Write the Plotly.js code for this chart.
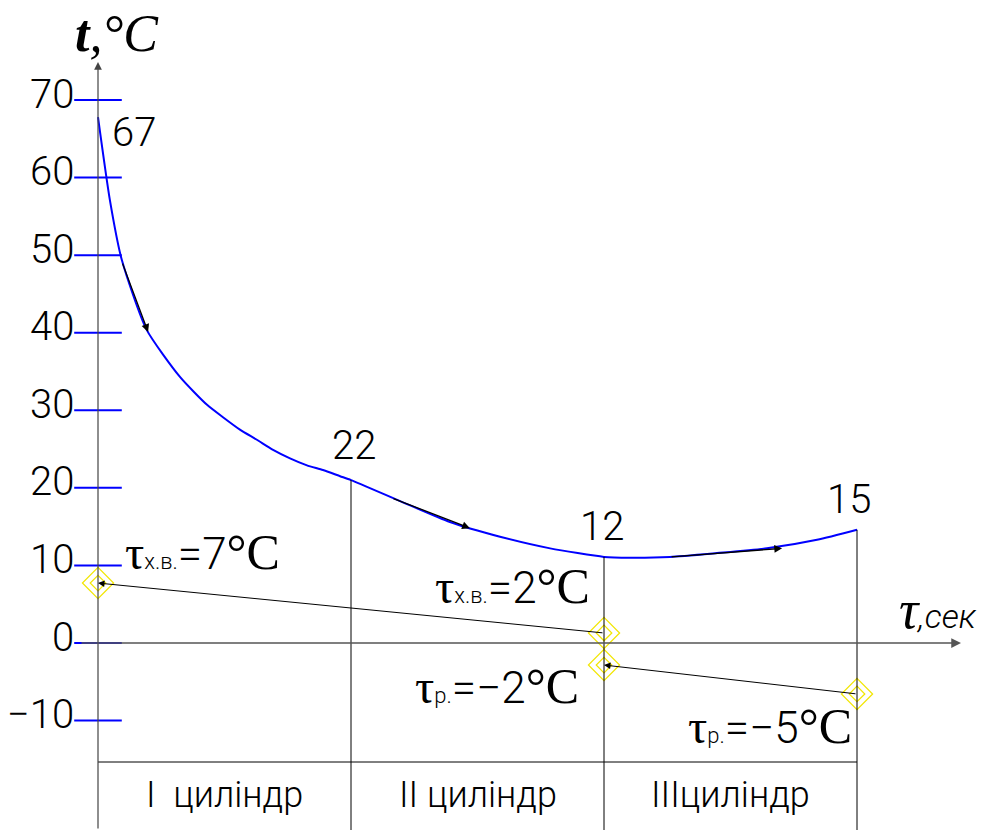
<!DOCTYPE html>
<html>
<head>
<meta charset="utf-8">
<script src="https://cdn.plot.ly/plotly-3.0.1.min.js"></script>
<style>html,body{margin:0;padding:0;background:#fff;}#chart{width:997px;height:830px;}</style>
</head>
<body>
<div id="chart"></div>
<script>
// ---- data ----
const curveX = [0, 0.047, 0.094, 0.192, 0.324, 0.431, 0.494, 0.561, 0.628, 0.692, 0.759, 0.826, 0.889, 0.957, 1.0, 1.194, 1.391, 1.589, 1.787, 2.0, 2.103, 2.261, 2.447, 2.644, 2.842, 3.0];
const curveT = [67.8, 57.1, 49.4, 40.4, 34.3, 30.7, 29.1, 27.5, 26.2, 24.9, 23.8, 22.9, 22.3, 21.5, 21.0, 18.3, 15.6, 13.7, 12.2, 11.1, 11.0, 11.1, 11.6, 12.2, 13.3, 14.6];
const pointX = [0, 1, 2, 3];
const pointLabels = ['67', '22', '12', '15'];
const tickVals = [70, 60, 50, 40, 30, 20, 10, 0, -10];
const tickText = ['70', '60', '50', '40', '30', '20', '10', '0', '−10'];
// cooling water (х.в.) and brine (р.) temperatures
const waterX = [0, 2];
const waterT = [7.73, 1.29];
const waterLabels = ['7', '2'];
const brineX = [2, 3];
const brineT = [-2.84, -6.57];
const brineLabels = ['−2', '−5'];
const cylinderNames = ['I&nbsp;&nbsp;циліндр', 'II циліндр', 'IIIциліндр'];
const cylinderX = [0.5, 1.5, 2.5];

// ---- layout helpers ----
const SANS = 'Roboto, "Liberation Sans", sans-serif';
const SERIF = '"Liberation Serif", "DejaVu Serif", serif';
const X0 = -98/253, X1 = (997-98)/253;
const Y1 = 643/7.757, Y0 = -(830-643)/7.757;
const tableLineT = -(762-643)/7.757;
const tableTextT = -(795-643)/7.757;

function curveAt(x){ const i = curveX.indexOf(x); return curveT[i]; }

const traces = [];
// blue tick marks crossing the axis
traces.push({x: tickVals.map(()=>0), y: tickVals, mode: 'markers', type: 'scatter',
  marker: {symbol: 'line-ew', size: 34, line: {color: '#0000ff', width: 2}}, hoverinfo: 'skip'});
// main curve
traces.push({x: curveX, y: curveT, mode: 'lines', type: 'scatter',
  line: {color: '#0000ff', width: 2, shape: 'spline', smoothing: 0.6}, hoverinfo: 'skip'});
// yellow diamonds
const allX = waterX.concat(brineX), allT = waterT.concat(brineT);
traces.push({x: allX, y: allT, mode: 'markers', type: 'scatter',
  marker: {symbol: 'diamond-open', size: 24, color: '#f2e600', line: {color: '#f2e600', width: 1.2}}, hoverinfo: 'skip'});
traces.push({x: allX, y: allT, mode: 'markers', type: 'scatter',
  marker: {symbol: 'diamond-open', size: 12, color: '#f2e600', line: {color: '#f2e600', width: 1.2}}, hoverinfo: 'skip'});

const shapes = [];
pointX.slice(1).forEach(x => {
  shapes.push({type: 'line', xref: 'x', yref: 'y', x0: x, x1: x, y0: curveAt(x), y1: Y0, line: {color: '#000', width: 1}});
});
shapes.push({type: 'line', xref: 'x', yref: 'y', x0: 0, x1: 3, y0: tableLineT, y1: tableLineT, line: {color: '#000', width: 1}});

const annotations = [];
annotations.push({x: 0, y: (643-62)/7.757, ax: 0, ay: Y0, xref: 'x', yref: 'y', axref: 'x', ayref: 'y',
  text: '', showarrow: true, arrowhead: 2, arrowsize: 1.3, arrowwidth: 1.2, arrowcolor: '#444', standoff: 0});
annotations.push({x: (961-98)/253, y: 0, ax: -18/253, ay: 0, xref: 'x', yref: 'y', axref: 'x', ayref: 'y',
  text: '', showarrow: true, arrowhead: 2, arrowsize: 1.3, arrowwidth: 1.5, arrowcolor: '#555', standoff: 0});
const numFont = {family: SANS, size: 40, color: '#000', weight: 300};
tickVals.forEach((v, i) => {
  annotations.push({x: 0, y: v, xref: 'x', yref: 'y', text: tickText[i], showarrow: false,
    xanchor: 'right', xshift: -22, yshift: 6, font: numFont});
});
const labelShift = [[36, -15], [3, 35], [-2, 30], [-8, 30]];
pointX.forEach((x, i) => {
  annotations.push({x: x, y: curveAt(x), xref: 'x', yref: 'y', text: pointLabels[i], showarrow: false,
    xshift: labelShift[i][0], yshift: labelShift[i][1], font: numFont});
});
[[0.095, 49.1, 0.198, 40.1], [1.162, 18.7, 1.470, 14.8], [2.261, 11.1, 2.704, 12.2]].forEach(a => {
  annotations.push({x: a[2], y: a[3], ax: a[0], ay: a[1], xref: 'x', yref: 'y', axref: 'x', ayref: 'y',
    text: '', showarrow: true, arrowhead: 2, arrowsize: 1.2, arrowwidth: 1.3, arrowcolor: '#000', standoff: 0});
});
annotations.push({x: waterX[0], y: waterT[0], ax: waterX[1], ay: waterT[1], xref: 'x', yref: 'y', axref: 'x', ayref: 'y',
  text: '', showarrow: true, arrowhead: 2, arrowsize: 1.3, arrowwidth: 1, arrowcolor: '#000', standoff: 0});
annotations.push({x: brineX[0], y: brineT[0], ax: brineX[1], ay: brineT[1], xref: 'x', yref: 'y', axref: 'x', ayref: 'y',
  text: '', showarrow: true, arrowhead: 2, arrowsize: 1.3, arrowwidth: 1, arrowcolor: '#000', standoff: 0});

const SERIFQ = SERIF.replace(/"/g, "'");
function tauText(sub, val){
  return '<span style="font-family:' + SERIFQ + ';font-size:48px;font-weight:400">τ</span>' +
    '<span style="font-size:22px">' + sub + '</span>=' + val +
    '<span style="font-family:' + SERIFQ + ';font-size:50px;font-weight:400">°C</span>';
}
const tauPos = [[202, 552], [512, 586], [497, 686], [770, 726]];
const tauTexts = [tauText('х.в.', waterLabels[0]), tauText('х.в.', waterLabels[1]),
                  tauText('р.', brineLabels[0]), tauText('р.', brineLabels[1])];
tauTexts.forEach((t, i) => {
  annotations.push({x: (tauPos[i][0]-98)/253, y: (643-tauPos[i][1])/7.757, xref: 'x', yref: 'y', text: t,
    showarrow: false, font: {family: SANS, size: 44, color: '#000', weight: 300}});
});
annotations.push({x: (117-98)/253, y: (643-33)/7.757, xref: 'x', yref: 'y', showarrow: false,
  text: '<b><i>t</i></b><i>,°C</i>', font: {family: SERIF, size: 52, color: '#000'}});
annotations.push({x: (938-98)/253, y: (643-610)/7.757, xref: 'x', yref: 'y', showarrow: false,
  text: '<i><span style="font-size:54px">τ</span></i><i><span style="font-family:Roboto;font-weight:300;font-size:34px">,сек</span></i>',
  font: {family: SERIF, size: 52, color: '#000'}});
cylinderNames.forEach((n, i) => {
  annotations.push({x: cylinderX[i], y: tableTextT, xref: 'x', yref: 'y', text: n, showarrow: false,
    font: {family: SANS, size: 36, color: '#000', weight: 300}});
});

const layout = {
  width: 997, height: 830,
  margin: {l: 0, r: 0, t: 0, b: 0},
  paper_bgcolor: '#fff', plot_bgcolor: '#fff',
  showlegend: false,
  xaxis: {range: [X0, X1], visible: false, fixedrange: true},
  yaxis: {range: [Y0, Y1], visible: false, fixedrange: true},
  shapes: shapes,
  annotations: annotations
};
Plotly.newPlot('chart', traces, layout, {staticPlot: true, displayModeBar: false});
</script>
</body>
</html>
